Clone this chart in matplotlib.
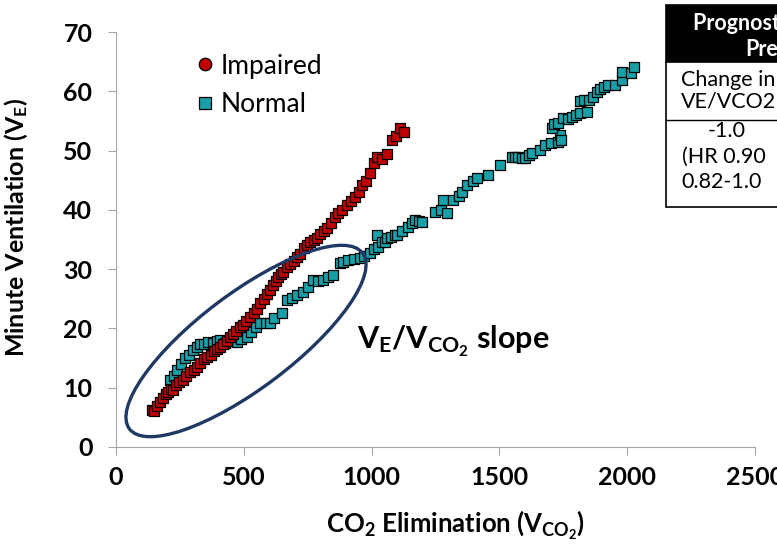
import matplotlib
matplotlib.use("Agg")
import matplotlib.pyplot as plt
from matplotlib.patches import Ellipse, Rectangle
from matplotlib.lines import Line2D

plt.rcParams['font.family'] = ['Lato', 'DejaVu Sans']
plt.rcParams['mathtext.fontset'] = 'custom'
plt.rcParams['mathtext.rm'] = 'Lato:bold'
plt.rcParams['mathtext.bf'] = 'Lato:bold'
plt.rcParams['mathtext.it'] = 'Lato:bold'

# Impaired (red) : CO2 elimination vs minute ventilation
impaired_vco2 = [141, 150, 160, 172, 184, 195, 205, 215, 223, 235, 245, 262, 275, 290,
                 305, 317, 330, 345, 356, 370, 385, 396, 407, 420, 433, 446, 458, 470,
                 486, 498, 510, 525, 538, 550, 564, 578, 590, 603, 615, 625, 634, 645,
                 655, 669, 680, 695, 709, 720, 735, 748, 760, 775, 787, 800, 812, 826,
                 840, 857, 870, 885, 904, 920, 936, 950, 963, 980, 995, 1010, 1022, 1040,
                 1060, 1080, 1095, 1112, 1125]
impaired_ve = [6.2, 6.0, 7.0, 7.6, 8.3, 8.9, 9.2, 9.8, 9.6, 10.4, 10.9, 11.3, 12.0, 12.6,
               13.0, 13.5, 14.2, 14.8, 15.2, 15.6, 16.2, 16.5, 16.9, 17.4, 17.9, 18.5, 19.0, 19.5,
               20.2, 20.6, 21.3, 21.9, 22.6, 23.3, 24.3, 24.9, 25.8, 26.5, 27.3, 28.0, 28.7, 29.1,
               29.6, 30.4, 30.8, 31.4, 32.0, 32.6, 33.5, 34.1, 34.5, 34.9, 35.2, 36.0, 36.4, 36.9,
               37.8, 38.8, 39.4, 40.0, 40.8, 41.5, 42.2, 43.0, 44.2, 44.8, 46.2, 47.9, 48.9, 48.6,
               49.5, 51.8, 52.5, 53.8, 53.2]

# Normal (teal)
normal_vco2 = [211, 225, 240, 255, 270, 285, 300, 315, 329, 345, 360, 380, 395, 407, 425,
               440, 460, 474, 490, 513, 530, 548, 564, 585, 603, 620, 650, 669, 690, 710,
               732, 750, 771, 790, 810, 830, 850, 877, 890, 908, 930, 955, 970, 995, 1010,
               1022, 1026, 1040, 1053, 1061, 1075, 1092, 1100, 1120, 1143, 1160, 1171, 1185,
               1198, 1249, 1270, 1280, 1296, 1319, 1340, 1355, 1374, 1395, 1413, 1456, 1503,
               1550, 1562, 1574, 1590, 1601, 1615, 1629, 1660, 1680, 1700, 1730, 1738, 1740,
               1707, 1715, 1730, 1750, 1770, 1785, 1800, 1816, 1844, 1816, 1830, 1850, 1868,
               1880, 1895, 1910, 1926, 1954, 1981, 1981, 2013, 2025]
normal_ve = [11.3, 12.0, 13.0, 14.0, 15.0, 15.6, 16.3, 16.8, 17.4, 17.3, 17.7, 17.5, 17.9, 18.0, 17.6,
             17.9, 17.8, 17.7, 18.3, 18.5, 19.4, 20.3, 20.9, 20.9, 20.9, 21.8, 22.6, 24.8, 25.2, 25.6,
             26.1, 27.0, 28.2, 28.0, 28.2, 28.6, 29.0, 31.0, 31.2, 31.5, 31.7, 31.9, 32.3, 32.7, 33.4,
             35.8, 33.7, 34.5, 34.6, 35.2, 35.5, 35.8, 35.8, 36.5, 37.1, 37.8, 38.3, 38.2,
             37.9, 39.6, 40.0, 41.7, 39.5, 41.7, 42.3, 43.0, 44.2, 44.8, 45.4, 45.9, 47.6,
             48.9, 49.0, 48.9, 48.8, 48.7, 49.2, 49.6, 50.1, 50.9, 51.3, 51.4, 52.6, 51.8,
             53.8, 54.5, 54.6, 55.5, 55.4, 55.6, 56.0, 56.3, 56.5, 58.3, 58.5, 58.6, 59.0,
             59.8, 60.4, 60.8, 61.0, 61.0, 61.9, 63.2, 63.1, 64.1]

x_ticks = [0, 500, 1000, 1500, 2000, 2500]
y_ticks = [0, 10, 20, 30, 40, 50, 60, 70]

red = '#C00000'
teal = '#17A0A8'
navy = '#1F3864'
W, H = 777, 545

fig = plt.figure(figsize=(W / 100, H / 100), dpi=100)
ax = fig.add_axes([116 / W, 1 - 447 / H, (755 - 116) / W, (447 - 32) / H])

ax.scatter(normal_vco2, normal_ve, marker='s', s=58, c=teal, edgecolors='black',
           linewidths=0.9, zorder=3)
ax.scatter(impaired_vco2, impaired_ve, marker='s', s=58, c=red, edgecolors='black',
           linewidths=0.9, zorder=4)

ax.set_xlim(0, 2500)
ax.set_ylim(0, 70)
ax.set_xticks(x_ticks, labels=[str(v) for v in x_ticks], fontweight='bold', fontsize=18)
ax.set_yticks(y_ticks, labels=[str(v) for v in y_ticks], fontweight='bold', fontsize=18)
for s in ['top', 'right']:
    ax.spines[s].set_visible(False)
for s in ['left', 'bottom']:
    ax.spines[s].set_color('#A6A6A6')
ax.tick_params(axis='both', colors='#A6A6A6', labelcolor='black', length=6)
ax.tick_params(axis='x', pad=8)
ax.tick_params(axis='y', pad=11)

ax.set_xlabel(r'CO$_2$ Elimination (V$_{CO_2}$)', fontsize=18.5, fontweight='bold')
ax.set_ylabel(r'Minute Ventilation (V$_E$)', fontsize=18, fontweight='bold')
ax.xaxis.set_label_coords(0.532, -0.15)
ax.yaxis.set_label_coords(-0.135, 0.53)

# legend
handles = [Line2D([], [], marker='o', ls='', markersize=9, markerfacecolor=red,
                  markeredgecolor='black', markeredgewidth=0.9),
           Line2D([], [], marker='s', ls='', markersize=8, markerfacecolor=teal,
                  markeredgecolor='black', markeredgewidth=0.9)]
px = matplotlib.transforms.Affine2D().scale(1, -1).translate(0, H)
ax.legend(handles, ['Impaired', 'Normal'], loc='upper left', bbox_to_anchor=(184, 43),
          bbox_transform=px, frameon=False, prop={'size': 19, 'weight': 'normal'},
          handletextpad=0.2, labelspacing=0.52, handlelength=0.8, borderaxespad=0)

# ellipse around the slope region (pixel coordinates)
ell = Ellipse((246, 341), 292, 95, angle=-37, fill=False, edgecolor=navy, lw=2.4,
              transform=px, zorder=5)
fig.add_artist(ell)
fig.text(357 / W, 1 - 341 / H, r'V$_E$/V$_{CO_2}$ slope', fontsize=22, fontweight='bold',
         va='center', ha='left')

# table (clipped by the figure edge)
fig.add_artist(Rectangle((666 / W, 1 - 62 / H), 1, 57 / H, transform=fig.transFigure,
                         facecolor='black', edgecolor='black', lw=1.2))
fig.add_artist(Rectangle((666 / W, 1 - 207 / H), 1, 145 / H, transform=fig.transFigure,
                         facecolor='white', edgecolor='black', lw=1.2))
fig.add_artist(Line2D([666 / W, 1], [1 - 120 / H] * 2, transform=fig.transFigure,
                      color='black', lw=1.0))
fig.text(693 / W, 1 - 23 / H, 'Prognostic Value', color='white', fontsize=15.5,
         fontweight='bold', va='center')
fig.text(745 / W, 1 - 50 / H, 'Predicting', color='white', fontsize=15.5,
         fontweight='bold', va='center')
fig.text(681 / W, 1 - 80 / H, 'Change in', fontsize=15.5, va='center')
fig.text(681 / W, 1 - 101 / H, 'VE/VCO2', fontsize=15.5, va='center')
fig.text(727 / W, 1 - 131 / H, '-1.0', fontsize=15.5, va='center', ha='center')
fig.text(682 / W, 1 - 157 / H, '(HR 0.90', fontsize=15.5, va='center')
fig.text(681 / W, 1 - 182 / H, '0.82-1.0', fontsize=15.5, va='center')

fig.savefig('out.png', dpi=100)
